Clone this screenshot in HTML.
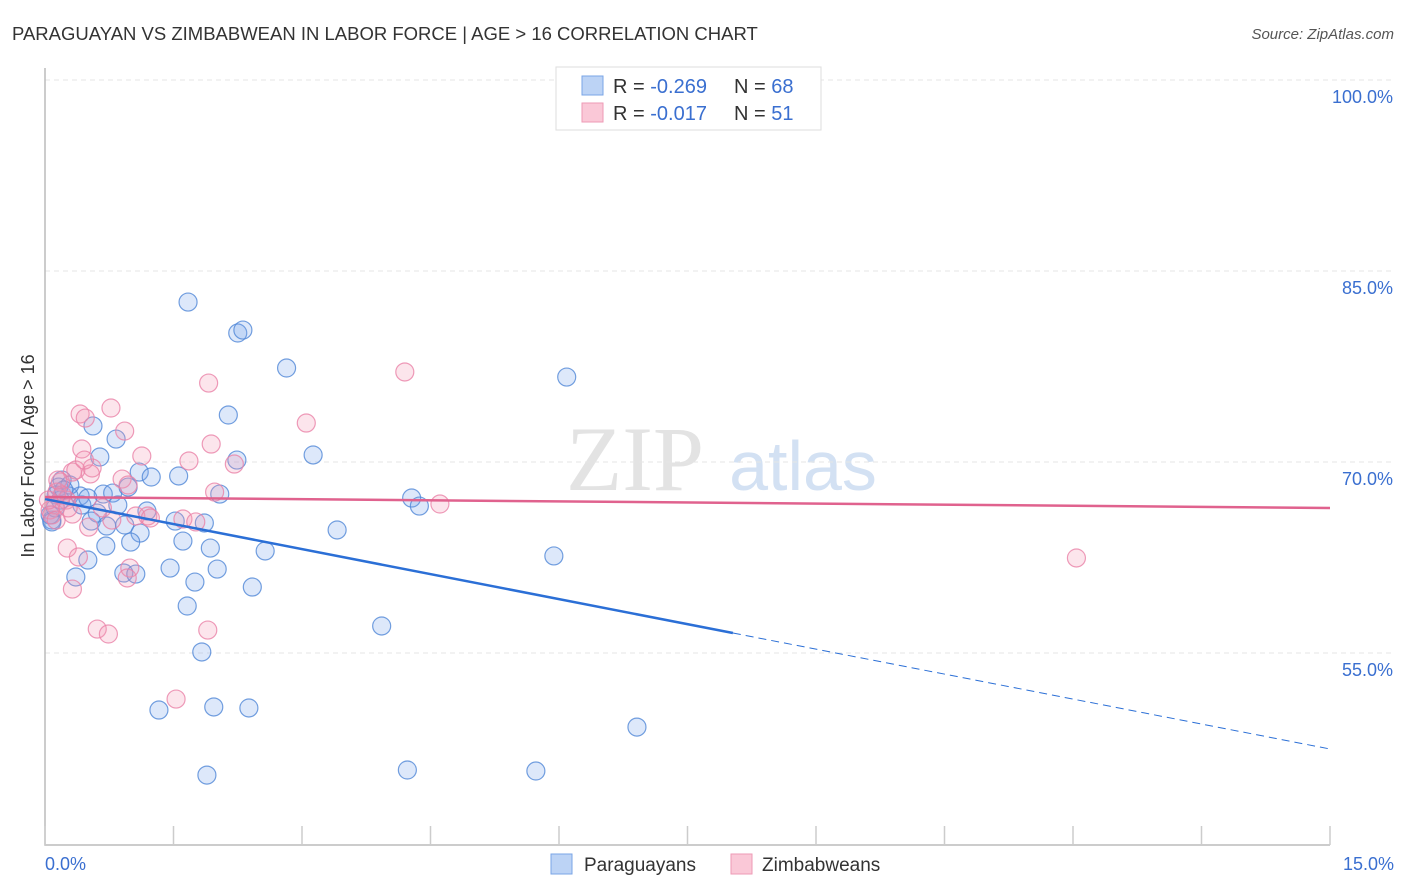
<!DOCTYPE html>
<html><head><meta charset="utf-8"><style>
body{margin:0;background:#fff;font-family:"Liberation Sans",sans-serif;}
</style></head><body>
<svg id="chart" width="1406" height="892" xmlns="http://www.w3.org/2000/svg" style="display:block">
<text x="12" y="40" font-size="18.5" fill="#333">PARAGUAYAN VS ZIMBABWEAN IN LABOR FORCE | AGE &gt; 16 CORRELATION CHART</text>
<text x="1394" y="39" font-size="15" fill="#555" font-style="italic" text-anchor="end">Source: ZipAtlas.com</text>
<text transform="translate(34,456) rotate(-90)" font-size="18" fill="#333" text-anchor="middle">In Labor Force | Age &gt; 16</text>
<g><text x="635" y="490" font-size="92" font-family="Liberation Serif,serif" fill="#e3e3e3" text-anchor="middle">ZIP</text><text x="803" y="490" font-size="70" fill="#d3e1f3" text-anchor="middle">atlas</text></g>
<g id="grid"></g><g id="axes"></g><g id="pts"></g><g id="lines"></g>
<g>
<rect x="556" y="67" width="265" height="63" fill="#fff" stroke="#ddd"/>
<rect x="582" y="76" width="21" height="19" fill="#bcd3f5" stroke="#7aa5e6"/>
<rect x="582" y="103" width="21" height="19" fill="#fac8d7" stroke="#ee9ab5"/>
<text x="613" y="93" font-size="20" fill="#333">R = <tspan fill="#3a6fd0">-0.269</tspan></text>
<text x="734" y="93" font-size="20" fill="#333">N = <tspan fill="#3a6fd0">68</tspan></text>
<text x="613" y="120" font-size="20" fill="#333">R = <tspan fill="#3a6fd0"> -0.017</tspan></text>
<text x="734" y="120" font-size="20" fill="#333">N = <tspan fill="#3a6fd0"> 51</tspan></text>
</g>
<g>
<rect x="551" y="854" width="21" height="20" fill="#bcd3f5" stroke="#7aa5e6"/>
<text x="584" y="871" font-size="19" fill="#333">Paraguayans</text>
<rect x="731" y="854" width="21" height="20" fill="#fac8d7" stroke="#ee9ab5"/>
<text x="762" y="871" font-size="19" fill="#333">Zimbabweans</text>
</g>
</svg>
<script>
const blueX=[1.67,2.25,2.31,2.82,6.09,2.14,0.56,0.83,3.13,2.24,0.64,1.10,1.56,1.24,0.20,0.28,0.41,0.68,0.79,0.97,2.04,4.28,4.37,0.16,0.13,0.43,0.85,0.61,0.54,1.19,1.52,1.86,0.93,0.72,1.11,3.41,1.61,1.00,0.71,1.93,2.57,5.94,0.50,1.46,2.01,0.92,1.06,0.36,1.75,2.42,1.66,3.93,1.83,1.33,1.97,2.38,6.91,1.89,4.23,5.73,0.08,0.06,0.12,0.18,0.29,0.50,0.22,0.08];
const blueY=[82.56,80.13,80.36,77.38,76.67,73.69,72.83,71.80,70.55,70.15,70.39,69.21,68.90,68.82,68.58,67.33,67.33,67.48,67.56,68.03,67.48,67.17,66.54,68.03,67.41,66.62,66.62,65.99,65.36,66.15,65.36,65.21,65.05,64.97,64.42,64.66,63.79,63.71,63.40,63.24,63.01,62.62,62.30,61.67,61.59,61.28,61.20,60.97,60.57,60.18,58.69,57.12,55.08,50.52,50.76,50.68,49.18,45.41,45.81,45.73,65.44,65.84,66.39,67.01,68.19,67.17,67.80,65.29];
const pinkX=[1.91,4.20,0.77,0.41,0.47,3.05,0.93,0.43,1.94,1.13,1.68,2.21,0.55,0.32,0.53,0.90,0.18,0.97,1.98,0.14,0.25,0.12,0.06,0.32,0.78,1.06,1.20,1.61,1.76,0.51,4.61,0.26,0.39,0.99,0.32,0.61,0.74,1.90,1.53,12.04,0.20,0.15,0.08,0.04,0.27,0.36,0.67,1.23,0.96,0.46,0.13];
const pinkY=[76.20,77.07,74.24,73.77,73.45,73.06,72.43,71.02,71.41,70.47,70.08,69.84,69.53,69.21,69.06,68.66,68.43,68.19,67.64,67.64,67.01,66.62,66.23,65.91,65.44,65.76,65.76,65.52,65.29,64.89,66.70,63.24,62.54,61.67,60.02,56.88,56.49,56.80,51.38,62.46,67.41,68.58,65.84,67.01,66.39,69.37,66.39,65.60,60.89,70.15,65.44];
const yTicks=[100,85,70,55];
const yTickLabels=["100.0%","85.0%","70.0%","55.0%"];
const xTicks=[0,1.5,3,4.5,6,7.5,9,10.5,12,13.5,15];
const blueTrend=[[0,67.09],[8.03,56.57],[15,47.46]];
const pinkTrend=[[0,67.25],[15,66.39]];
const X=v=>45+v*1285/15, Y=v=>80+(100-v)*12.733;
const NS="http://www.w3.org/2000/svg";
function mk(parent,tag,attrs){const e=document.createElementNS(NS,tag);for(const k in attrs)e.setAttribute(k,attrs[k]);document.getElementById(parent).appendChild(e);return e;}
yTicks.forEach((t,i)=>{
 const g=mk('grid','line',{x1:45,x2:1394,y1:Y(t),y2:Y(t),stroke:'#e6e6e6','stroke-dasharray':'5,4'});
 
 
 const l=mk('grid','text',{x:1393,y:Y(t)+23,'font-size':18,fill:'#3a6fd0','text-anchor':'end'});l.textContent=yTickLabels[i];
 
 
});
const ax=mk('axes','path',{d:'M45,68 V845 H1330',fill:'none',stroke:'#bbb','stroke-width':1.5});


xTicks.forEach(t=>{const e=mk('axes','line',{x1:X(t),x2:X(t),y1:826,y2:845,stroke:'#ccc','stroke-width':1.5});
 
 });
const xl0=mk('axes','text',{x:45,y:870,'font-size':18,fill:'#3a6fd0'});xl0.textContent='0.0%';


const xl1=mk('axes','text',{x:1394,y:870,'font-size':18,fill:'#3a6fd0','text-anchor':'end'});xl1.textContent='15.0%';


blueX.forEach((x,i)=>{const c=mk('pts','circle',{cx:X(x),cy:Y(blueY[i]),r:9,fill:'rgba(120,165,235,0.25)',stroke:'rgba(80,135,215,0.8)','stroke-width':1.2});
 
 });
pinkX.forEach((x,i)=>{const c=mk('pts','circle',{cx:X(x),cy:Y(pinkY[i]),r:9,fill:'rgba(245,150,180,0.25)',stroke:'rgba(234,130,168,0.8)','stroke-width':1.2});
 
 });
const b1=mk('lines','line',{x1:X(blueTrend[0][0]),y1:Y(blueTrend[0][1]),x2:X(blueTrend[1][0]),y2:Y(blueTrend[1][1]),stroke:'#2b6fd6','stroke-width':2.5});


const b2=mk('lines','line',{x1:X(blueTrend[1][0]),y1:Y(blueTrend[1][1]),x2:X(blueTrend[2][0]),y2:Y(blueTrend[2][1]),stroke:'#2b6fd6','stroke-width':1,'stroke-dasharray':'8,5'});


const p1=mk('lines','line',{x1:X(pinkTrend[0][0]),y1:Y(pinkTrend[0][1]),x2:X(pinkTrend[1][0]),y2:Y(pinkTrend[1][1]),stroke:'#e0628e','stroke-width':2.5});


</script>
</body></html>
